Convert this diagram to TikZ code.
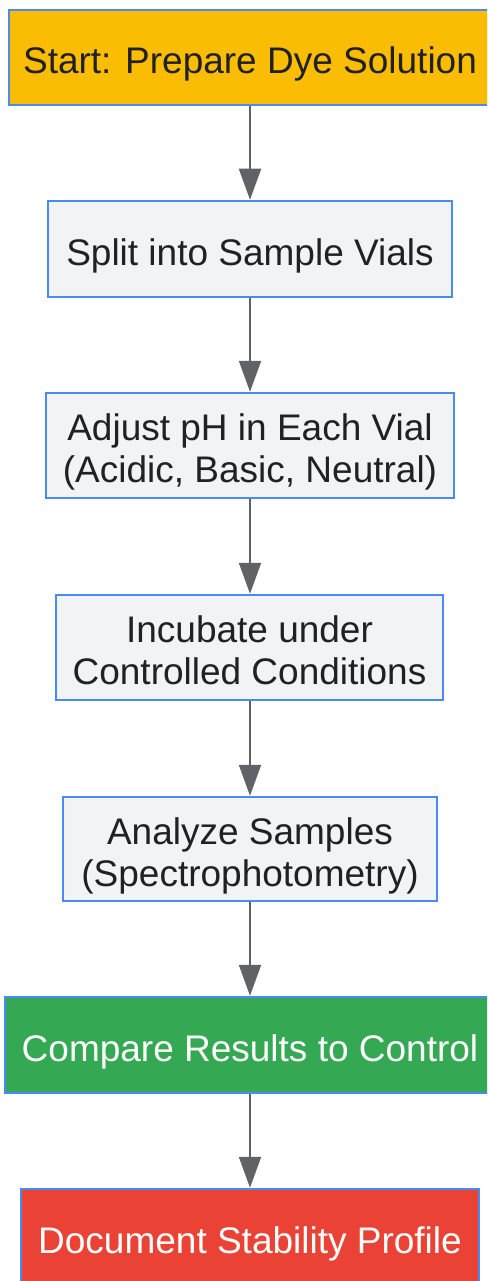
\documentclass[tikz,border=0pt]{standalone}
\usepackage{fontspec}
\setmainfont{Liberation Sans}
\usetikzlibrary{arrows.meta}
\definecolor{bordblue}{HTML}{4A8AF4}
\definecolor{startyel}{HTML}{FBBC04}
\definecolor{grayfill}{HTML}{F1F3F4}
\definecolor{txtdark}{HTML}{202124}
\definecolor{okgreen}{HTML}{34A853}
\definecolor{endred}{HTML}{EA4335}
\definecolor{arrowgray}{HTML}{5F6368}
\tikzset{
  box/.style={draw=bordblue, line width=2.5pt, rectangle, inner sep=0pt},
  graybox/.style={box, fill=grayfill},
  boxtext/.style={inner sep=0pt, align=center, yshift=-6.5pt,
    font=\fontsize{37}{42}\selectfont, text=txtdark},
  whitetext/.style={boxtext, text=white},
  flow/.style={draw=arrowgray, line width=2.2pt, -{Triangle[width=22pt,length=31pt]}}
}
\begin{document}
\begin{tikzpicture}[x=1pt,y=-1pt]
\useasboundingbox (0,0) rectangle (487,1281);
\clip (0,0) rectangle (487,1281);
\node[box, fill=startyel, minimum width=482pt, minimum height=95pt,
  label={[boxtext]center:Start: Prepare Dye Solution}] (start) at (250,57.5) {};
\node[graybox, minimum width=404pt, minimum height=96pt,
  label={[boxtext]center:Split into Sample Vials}] (split) at (250,249) {};
\node[graybox, minimum width=408pt, minimum height=105pt,
  label={[boxtext]center:{Adjust pH in Each Vial\\(Acidic, Basic, Neutral)}}] (adjust) at (250,445.5) {};
\node[graybox, minimum width=387pt, minimum height=105pt,
  label={[boxtext]center:{\vphantom{()}Incubate under\\\vphantom{()}Controlled Conditions}}] (incub) at (249.5,647.5) {};
\node[graybox, minimum width=374pt, minimum height=104pt,
  label={[boxtext]center:{Analyze Samples\\(Spectrophotometry)}}] (analyze) at (250,849) {};
\node[box, fill=okgreen, minimum width=490pt, minimum height=96pt,
  label={[whitetext]center:Compare Results to Control}] (compare) at (250,1045) {};
\node[box, fill=endred, minimum width=458pt, minimum height=96pt,
  label={[whitetext]center:Document Stability Profile}] (doc) at (250,1237) {};
\draw[flow] (start.south) -- (split.north);
\draw[flow] (split.south) -- (adjust.north);
\draw[flow] (adjust.south) -- (incub.north -| adjust.south);
\draw[flow] (incub.south -| adjust.south) -- (analyze.north -| adjust.south);
\draw[flow] (analyze.south) -- (compare.north);
\draw[flow] (compare.south) -- (doc.north);
\end{tikzpicture}
\end{document}
